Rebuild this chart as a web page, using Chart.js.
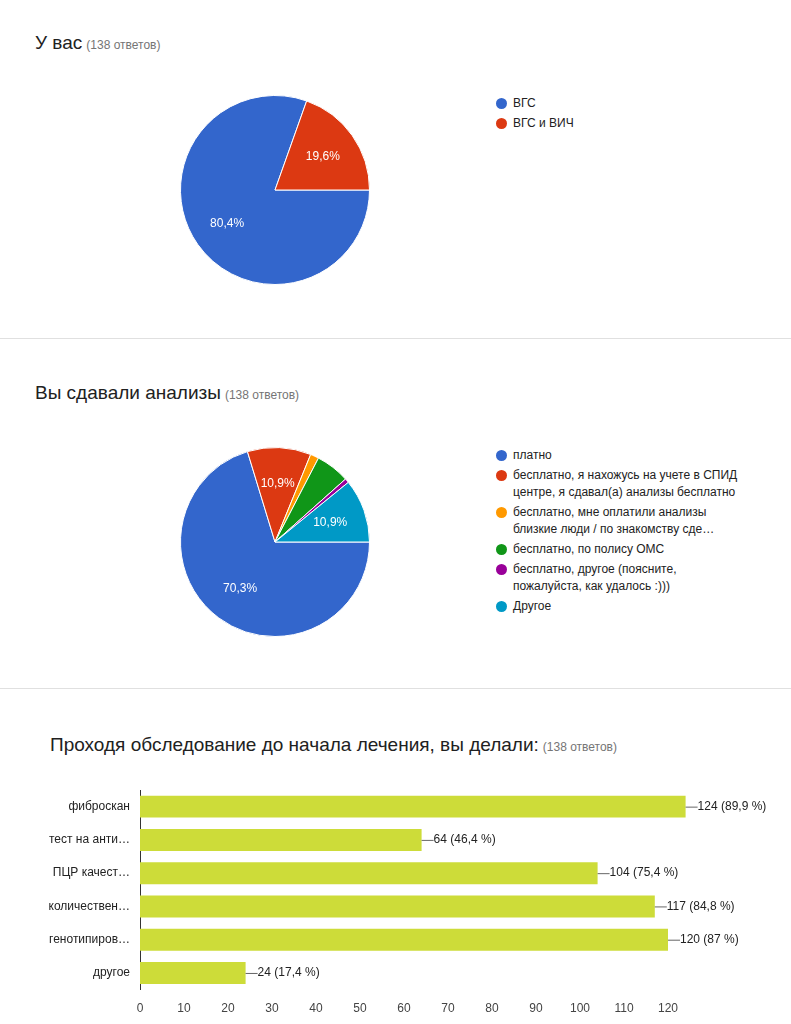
<!DOCTYPE html>
<html>
<head>
<meta charset="utf-8">
<script src="https://cdn.jsdelivr.net/npm/chart.js@4"></script>
<style>
body { margin:0; width:791px; height:1024px; background:#fff; font-family:Arial, "Liberation Sans", sans-serif; position:relative; overflow:hidden; }
.title { position:absolute; font-size:19px; color:#212121; }
.title span { font-size:12px; color:#757575; margin-left:4px; }
.hr { position:absolute; left:0; width:791px; border-top:1px solid #e0e0e0; }
.legend { position:absolute; left:496px; font-size:12px; color:#222; width:250px; }
.legend div { position:relative; padding-left:17px; line-height:17px; margin-bottom:3px; }
.legend i { position:absolute; left:0; top:3px; width:11px; height:11px; border-radius:50%; }
canvas { position:absolute; }
</style>
</head>
<body>
<div class="title" style="left:35px;top:32px">У вас<span>(138 ответов)</span></div>
<div class="hr" style="top:338px"></div>
<div class="title" style="left:35px;top:382px">Вы сдавали анализы<span>(138 ответов)</span></div>
<div class="hr" style="top:688px"></div>
<div class="title" style="left:50px;top:734px">Проходя обследование до начала лечения, вы делали:<span>(138 ответов)</span></div>

<div class="legend" id="legend1" style="top:95px"></div>
<div class="legend" id="legend2" style="top:447px"></div>

<canvas id="pie1" style="left:175px;top:90px;width:200px;height:200px"></canvas>
<canvas id="pie2" style="left:175px;top:442px;width:200px;height:200px"></canvas>
<canvas id="bars" style="left:0;top:780px;width:791px;height:240px"></canvas>

<script>
const colors = ['#3366cc', '#dc3912', '#ff9900', '#109618', '#990099', '#0099c6'];

const pie1_labels = ['ВГС', 'ВГС и ВИЧ'];
const pie1_values = [111, 27];

const pie2_labels = ['платно',
    'бесплатно, я нахожусь на учете в СПИД центре, я сдавал(а) анализы бесплатно',
    'бесплатно, мне оплатили анализы близкие люди / по знакомству сде…',
    'бесплатно, по полису ОМС',
    'бесплатно, другое (поясните, пожалуйста, как удалось :)))',
    'Другое'];
const pie2_values = [97, 15, 2, 8, 1, 15];

const bar_labels = ['фиброскан', 'тест на анти…', 'ПЦР качест…', 'количествен…', 'генотипиров…', 'другое'];
const bar_values = [124, 64, 104, 117, 120, 24];
const bar_ticks = [0, 10, 20, 30, 40, 50, 60, 70, 80, 90, 100, 110, 120];
const total = 138;

const fmt = (v) => (Math.round(v * 10) / 10).toString().replace('.', ',');

const make_legend = (id, labels) => {
    let html = '';
    labels.forEach((l, i) => {
        html += `<div><i style="background:${colors[i]}"></i>${l}</div>`;
    });
    document.getElementById(id).innerHTML = html;
}

const pieLabels = {
    id: 'pieLabels',
    afterDatasetsDraw(chart) {
        const ctx = chart.ctx;
        const data = chart.data.datasets[0].data;
        const sum = data.reduce((a, b) => a + b, 0);
        chart.getDatasetMeta(0).data.forEach((arc, i) => {
            const pct = data[i] / sum * 100;
            if (pct < 10) return;
            const p = arc.tooltipPosition();
            const mid = (arc.startAngle + arc.endAngle) / 2;
            const r = arc.outerRadius * 0.62;
            ctx.save();
            ctx.fillStyle = '#fff';
            ctx.font = '12px Arial, "Liberation Sans", sans-serif';
            ctx.textAlign = 'center';
            ctx.textBaseline = 'middle';
            ctx.fillText(fmt(pct) + '%', arc.x + Math.cos(mid) * r, arc.y + Math.sin(mid) * r);
            ctx.restore();
        });
    }
};

const init_pie = (id, labels, values) => {
    new Chart(document.getElementById(id), {
        type: 'pie',
        data: {
            labels: labels,
            datasets: [{
                data: values,
                backgroundColor: colors.slice(0, values.length),
                borderColor: '#fff',
                borderWidth: 1
            }]
        },
        options: {
            responsive: false,
            animation: false,
            rotation: 90,
            layout: { padding: 5 },
            plugins: { legend: { display: false }, tooltip: { enabled: false } }
        },
        plugins: [pieLabels]
    });
}

const barLabels = {
    id: 'barLabels',
    afterDatasetsDraw(chart) {
        const ctx = chart.ctx;
        chart.getDatasetMeta(0).data.forEach((bar, i) => {
            const v = bar_values[i];
            ctx.save();
            ctx.strokeStyle = '#666';
            ctx.lineWidth = 1;
            ctx.beginPath();
            ctx.moveTo(bar.x, bar.y + 0.5);
            ctx.lineTo(bar.x + 12, bar.y + 0.5);
            ctx.stroke();
            ctx.fillStyle = '#222';
            ctx.font = '12px Arial, "Liberation Sans", sans-serif';
            ctx.textBaseline = 'middle';
            ctx.fillText(`${v} (${fmt(v / total * 100)} %)`, bar.x + 12, bar.y);
            ctx.restore();
        });
    }
};

const init_bar_chart = () => {
    new Chart(document.getElementById('bars'), {
        type: 'bar',
        data: {
            labels: bar_labels,
            datasets: [{
                data: bar_values,
                backgroundColor: '#cddc39',
                categoryPercentage: 0.66,
                barPercentage: 1
            }]
        },
        options: {
            responsive: false,
            animation: false,
            indexAxis: 'y',
            layout: { padding: { top: 10, right: 101, bottom: 0, left: 0 } },
            scales: {
                x: {
                    min: 0,
                    max: 125,
                    afterBuildTicks: (s) => { s.ticks = bar_ticks.map(v => ({ value: v })); },
                    grid: { display: false },
                    border: { display: false },
                    ticks: { color: '#444', font: { size: 12, family: 'Arial, "Liberation Sans", sans-serif' }, padding: 4 }
                },
                y: {
                    afterFit: (s) => { s.width = 140; },
                    grid: { display: false },
                    border: { color: '#333', width: 1 },
                    ticks: { color: '#222', font: { size: 12, family: 'Arial, "Liberation Sans", sans-serif' }, padding: 2 }
                }
            },
            plugins: { legend: { display: false }, tooltip: { enabled: false } }
        },
        plugins: [barLabels]
    });
}

make_legend('legend1', pie1_labels);
make_legend('legend2', pie2_labels);
init_pie('pie1', pie1_labels, pie1_values);
init_pie('pie2', pie2_labels, pie2_values);
init_bar_chart();
</script>
</body>
</html>
